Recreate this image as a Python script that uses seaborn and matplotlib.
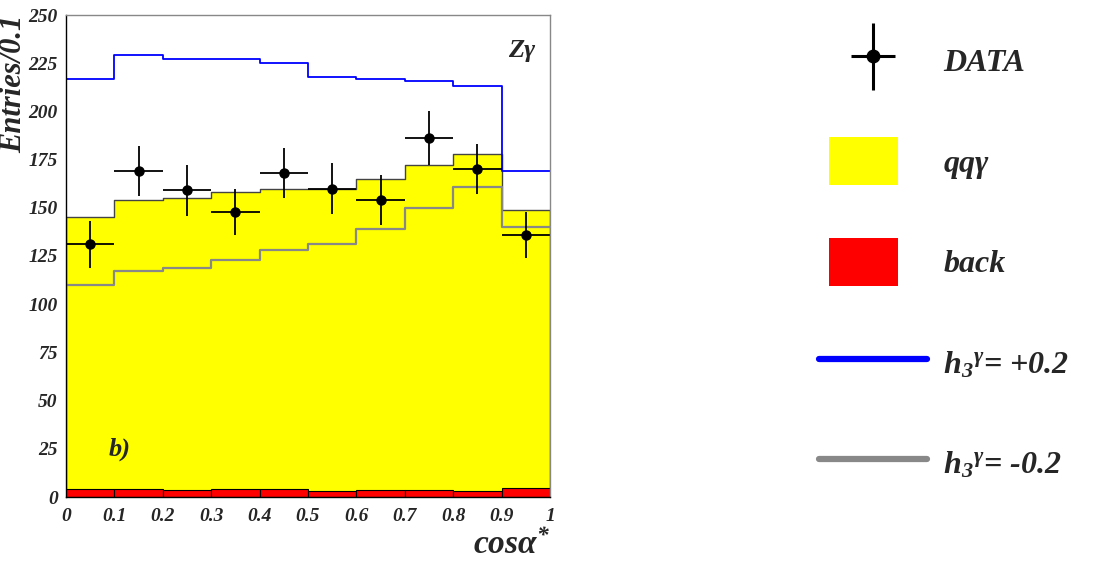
import numpy as np
import matplotlib
matplotlib.use("Agg")
import matplotlib.pyplot as plt
import seaborn as sns
from matplotlib import font_manager as fm
from matplotlib.patches import Patch, Rectangle
from matplotlib.lines import Line2D
from matplotlib.legend_handler import HandlerPatch, HandlerErrorbar
from matplotlib.ticker import MultipleLocator

# ---- data ----
bin_edges = [0, 0.1, 0.2, 0.3, 0.4, 0.5, 0.6, 0.7, 0.8, 0.9, 1.0]
bin_centers = [0.05, 0.15, 0.25, 0.35, 0.45, 0.55, 0.65, 0.75, 0.85, 0.95]
back = [4.0, 4.0, 3.5, 4.0, 4.0, 3.0, 3.5, 3.5, 3.0, 4.5]
qqg_plus_back = [145, 154, 155, 158, 160, 160, 165, 172, 178, 149]
h3_plus = [217, 229, 227, 227, 225, 218, 217, 216, 213, 169]
h3_minus = [110, 117, 119, 123, 128, 131, 139, 150, 161, 140]
data_vals = [131, 169, 159, 148, 168, 160, 154, 186, 170, 136]
data_errs = [12, 13, 13, 12, 13, 13, 13, 14, 13, 12]
x_ticks = [0, 0.1, 0.2, 0.3, 0.4, 0.5, 0.6, 0.7, 0.8, 0.9, 1]
x_tick_labels = ["0", "0.1", "0.2", "0.3", "0.4", "0.5", "0.6", "0.7", "0.8", "0.9", "1"]
y_ticks = [0, 25, 50, 75, 100, 125, 150, 175, 200, 225, 250]
legend_labels = ["DATA", "qq\u03b3", "back", r"h$_3$$^{\gamma}$= +0.2", r"h$_3$$^{\gamma}$= -0.2"]

sns.set_style("white")

bi_path = None
for f in fm.fontManager.ttflist:
    if f.fname.endswith("LiberationSerif-BoldItalic.ttf"):
        bi_path = f.fname
        break

def fp(size):
    if bi_path:
        return fm.FontProperties(fname=bi_path, size=size)
    return fm.FontProperties(family="serif", weight="bold", style="italic", size=size)

plt.rcParams["font.family"] = ["Liberation Serif", "DejaVu Serif"]
plt.rcParams["mathtext.fontset"] = "custom"
plt.rcParams["mathtext.rm"] = "Liberation Serif:bold:italic"
plt.rcParams["mathtext.it"] = "Liberation Serif:bold:italic"
plt.rcParams["mathtext.bf"] = "Liberation Serif:bold:italic"

fig = plt.figure(figsize=(10.94, 5.66), dpi=100)
ax = fig.add_axes([66 / 1094, 1 - 497 / 566, 484 / 1094, 482 / 566])

# yellow stacked total
sns.histplot(x=bin_centers, weights=qqg_plus_back, bins=bin_edges, element="step",
             fill=True, color="#FFFF00", alpha=1, edgecolor="#444444", linewidth=1.0, ax=ax)
# red background
sns.histplot(x=bin_centers, weights=back, bins=bin_edges, element="bars",
             fill=True, color="#FF0000", alpha=1, edgecolor="black", linewidth=0.8, ax=ax)
# h3 = +0.2
sns.histplot(x=bin_centers, weights=h3_plus, bins=bin_edges, element="step",
             fill=False, color="#0000FF", linewidth=1.3, ax=ax)
# h3 = -0.2
sns.histplot(x=bin_centers, weights=h3_minus, bins=bin_edges, element="step",
             fill=False, color="#888888", linewidth=1.6, ax=ax)
# data
ax.errorbar(bin_centers, data_vals, yerr=data_errs, xerr=0.05, fmt="o", color="black",
            markersize=6.5, elinewidth=1.3, capsize=0)

ax.set_xlim(0, 1)
ax.set_ylim(0, 250)
ax.set_xticks(x_ticks)
ax.set_xticklabels(x_tick_labels)
ax.set_yticks(y_ticks)
ax.xaxis.set_minor_locator(MultipleLocator(0.02))
ax.yaxis.set_minor_locator(MultipleLocator(5))
ax.tick_params(direction="in", which="major", length=8, width=1, pad=6)
ax.tick_params(direction="in", which="minor", length=4, width=1)
ax.tick_params(axis="x", pad=8)
for lab in ax.get_xticklabels() + ax.get_yticklabels():
    lab.set_fontproperties(fp(14))

for s in ["top", "right"]:
    ax.spines[s].set_color("#888888")
    ax.spines[s].set_linewidth(1)
for s in ["left", "bottom"]:
    ax.spines[s].set_color("black")
    ax.spines[s].set_linewidth(1)

ax.set_ylabel("Entries/0.1", fontproperties=fp(22), loc="top", labelpad=0)
ax.set_xlabel("cos\u03b1$^{*}$", fontproperties=fp(24), loc="right", labelpad=3)
ax.text(0.97, 0.95, "Z\u03b3", transform=ax.transAxes, ha="right", va="top", fontproperties=fp(19))
ax.text(0.11, 0.10, "b)", transform=ax.transAxes, ha="center", va="center", fontproperties=fp(19))

# ---- legend ----
def box_patch(legend, orig_handle, xdescent, ydescent, width, height, fontsize):
    w = 0.64 * width
    h = 52 / 33 * fontsize * 0.95
    return Rectangle((-xdescent + 0.09 * width, -ydescent + height / 2 - h / 2), w, h)

data_handle = ax.errorbar([], [], yerr=[], xerr=[], fmt="o", color="black", markersize=9,
                          elinewidth=2.2, capsize=0)
handles = [data_handle,
           Patch(facecolor="#FFFF00", edgecolor="none"),
           Patch(facecolor="#FF0000", edgecolor="none"),
           Line2D([], [], color="#0000FF", linewidth=4.5),
           Line2D([], [], color="#888888", linewidth=4.5)]
leg = fig.legend(handles, legend_labels, loc="upper left",
                 bbox_to_anchor=(790 / 1094, 1 - 13 / 566),
                 frameon=False, prop=fp(23), handlelength=3.4, handleheight=1.4,
                 labelspacing=2.0, handletextpad=0.5,
                 handler_map={Patch: HandlerPatch(patch_func=box_patch),
                              type(data_handle): HandlerErrorbar(xerr_size=0.7, yerr_size=1.05)})

fig.savefig("out.png", dpi=100)
